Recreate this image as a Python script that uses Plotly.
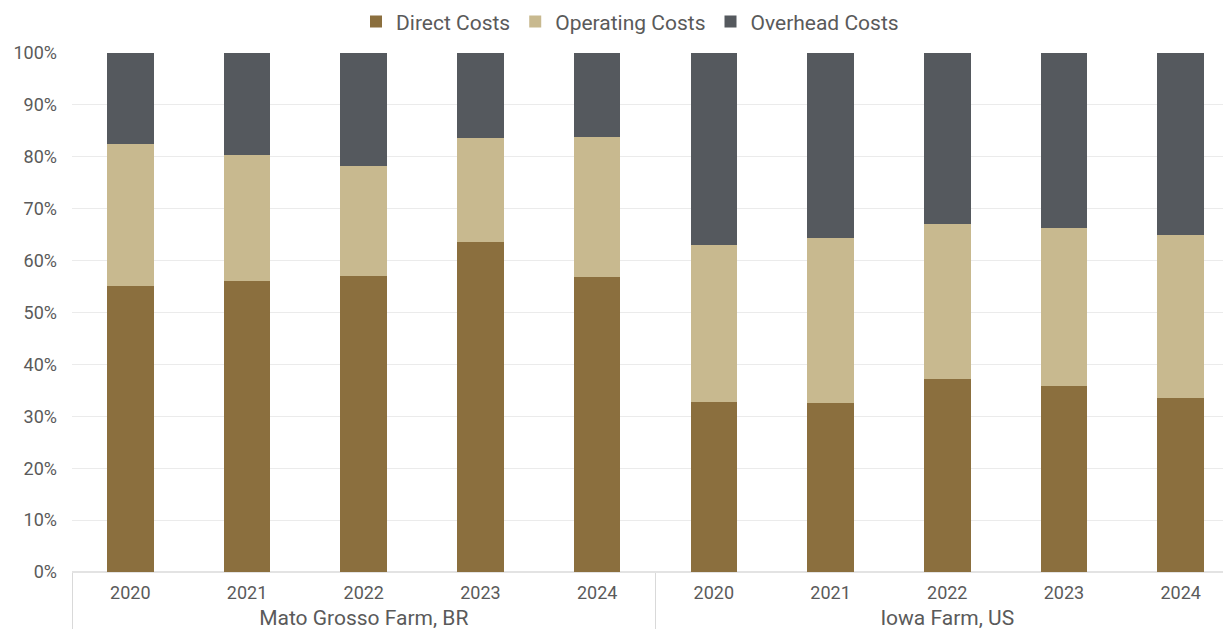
import plotly.graph_objects as go

# Cost structure shares (% of total cost) by farm and year
farm_names = ["Mato Grosso Farm, BR", "Iowa Farm, US"]
years = ["2020", "2021", "2022", "2023", "2024"] * 2

direct_costs = [55.2, 56.0, 57.0, 63.6, 56.8, 32.7, 32.6, 37.2, 35.8, 33.6]
operating_costs = [27.2, 24.3, 21.2, 20.1, 27.1, 30.4, 31.7, 29.9, 30.5, 31.4]
overhead_costs = [17.6, 19.7, 21.8, 16.3, 16.1, 36.9, 35.7, 32.9, 33.7, 35.0]

series_names = ["Direct Costs", "Operating Costs", "Overhead Costs"]
series_colors = ["#8b6f3e", "#c8b98f", "#55595e"]

text_color = "#5a5a5a"
font_family = "Roboto, 'Noto Sans', sans-serif"

# outer axis level: farm names, a little larger and set lower than the years
group_style = "font-size:21px;baseline-shift:-11px"
group_labels = [f"<span style='{group_style}'>{n}</span>" for n in farm_names]
farms = [group_labels[0]] * 5 + [group_labels[1]] * 5

fig = go.Figure()
for name, values, color in zip(series_names,
                               [direct_costs, operating_costs, overhead_costs],
                               series_colors):
    fig.add_trace(go.Bar(
        x=[farms, years],
        y=[v / 100 for v in values],
        name=name,
        marker=dict(color=color, line=dict(width=0)),
    ))

plot_left, plot_right = 72, 1223
cat_px = 116.7
span = (plot_right - plot_left) / cat_px

fig.update_layout(
    width=1223,
    height=629,
    barmode="stack",
    bargap=0.6,
    plot_bgcolor="white",
    paper_bgcolor="white",
    font=dict(family=font_family, size=18, color=text_color),
    margin=dict(l=plot_left, r=0, t=53, b=57, pad=0, autoexpand=False),
    legend=dict(
        orientation="h",
        x=0.4848,
        xanchor="center",
        y=1.06,
        yanchor="middle",
        font=dict(size=21, color=text_color),
        itemwidth=30,
        traceorder="normal",
    ),
    xaxis=dict(
        type="multicategory",
        range=[-0.5, -0.5 + span],
        automargin=False,
        showgrid=False,
        showline=False,
        ticks="",
        ticklabelstandoff=8,
        showdividers=True,
        dividercolor="#d9d9d9",
        dividerwidth=1,
        tickfont=dict(size=18, color=text_color),
    ),
    yaxis=dict(
        range=[0, 1],
        tickvals=[i / 10 for i in range(11)],
        tickformat=".0%",
        automargin=False,
        showgrid=True,
        gridcolor="#ebebeb",
        gridwidth=1,
        zeroline=True,
        zerolinecolor="#e3e3e3",
        showline=False,
        ticks="",
        ticklabelstandoff=14,
        tickfont=dict(size=18, color=text_color),
    ),
)

fig.write_html("out.html")
